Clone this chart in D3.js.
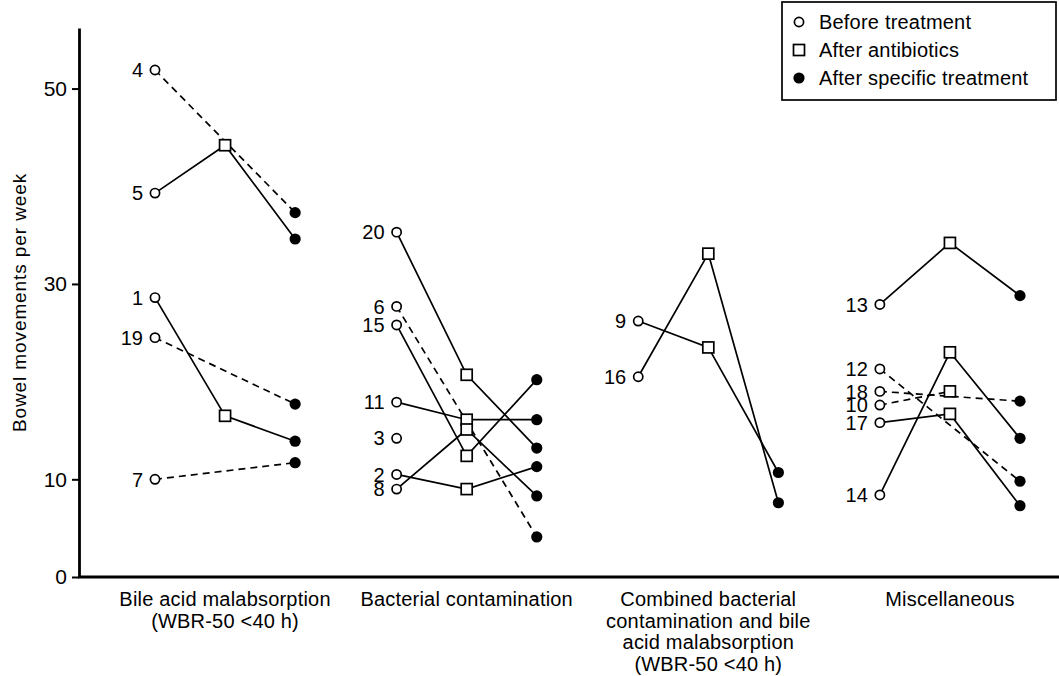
<!DOCTYPE html>
<html>
<head>
<meta charset="utf-8">
<script src="https://cdn.jsdelivr.net/npm/d3@7"></script>
<style>
  body { margin: 0; background: #fff; }
  text { font-family: "Liberation Sans", Arial, sans-serif; fill: #000; }
</style>
</head>
<body>
<div id="chart"></div>
<script>
// Categories (one entry per text line of the x label)
const groupLabels = [
    ["Bile acid malabsorption", "(WBR-50 <40 h)"],
    ["Bacterial contamination"],
    ["Combined bacterial", "contamination and bile", "acid malabsorption", "(WBR-50 <40 h)"],
    ["Miscellaneous"]
];
const phases = ["Before treatment", "After antibiotics", "After specific treatment"];
const yTicks = [0, 10, 30, 50];

const patientIds     = [4, 5, 1, 19, 7,   20, 6, 15, 11, 3, 2, 8,   9, 16,   13, 12, 18, 10, 17, 14];
const patientGroup   = [0, 0, 0, 0, 0,    1, 1, 1, 1, 1, 1, 1,      2, 2,    3, 3, 3, 3, 3, 3];
const beforeVals     = [51.9, 39.3, 28.6, 24.5, 10.0,  35.3, 27.7, 25.8, 17.9, 14.2, 10.5, 9.0,  26.2, 20.5,  27.9, 21.3, 19.0, 17.6, 15.8, 8.4];
const antibioticVals = [null, 44.2, 16.5, null, null,  20.7, null, 12.4, 16.1, null, 9.0, 15.1,  23.5, 33.1,  34.2, null, null, 19.0, 16.7, 23.0];
const specificVals   = [37.3, 34.6, 13.9, 17.7, 11.7,  13.2, 4.1, 20.2, 16.1, null, 11.3, 8.3,  10.7, 7.6,  28.8, 9.8, 18.0, null, 7.3, 14.2];
const dashedLine     = [true, false, false, true, true,  false, true, false, false, false, false, false,  false, false,  false, true, true, true, false, false];

const W = 1059, H = 676;
const svg = d3.select("#chart").append("svg")
    .attr("width", W)
    .attr("height", H);

// Scales
const y = d3.scaleLinear().domain([0, 56.2]).range([577, 28]);
const xGroup = d3.scaleBand()
    .domain(d3.range(groupLabels.length))
    .range([155, 1020])
    .paddingInner(0.42)
    .paddingOuter(0);
const xPhase = d3.scalePoint().domain(phases).range([0, xGroup.bandwidth()]);
const axisX = 79;

// Build patient records
const patients = patientIds.map((id, i) => {
    const vals = [beforeVals[i], antibioticVals[i], specificVals[i]];
    const pts = vals.map((v, j) => ({ phase: phases[j], value: v, x: xGroup(patientGroup[i]) + xPhase(phases[j]) }))
        .filter(p => p.value !== null);
    return { id, dashed: dashedLine[i], pts };
});

// Y axis
const yAxis = d3.axisLeft(y).tickValues(yTicks).tickSize(7).tickSizeOuter(0).tickPadding(5);
const gy = svg.append("g")
    .attr("transform", `translate(${axisX},0)`)
    .call(yAxis);
gy.select(".domain").attr("stroke-width", 2.8);
gy.selectAll(".tick line").attr("stroke-width", 2);
gy.selectAll(".tick text")
    .style("font-size", "21px")
    .attr("fill", "#000");

// X axis baseline
svg.append("line")
    .attr("x1", axisX - 1)
    .attr("x2", W)
    .attr("y1", y(0))
    .attr("y2", y(0))
    .attr("stroke", "#000")
    .attr("stroke-width", 2.8);

// Y axis title
svg.append("text")
    .attr("transform", `translate(26,${(y(0) + y(56.2)) / 2}) rotate(-90)`)
    .attr("text-anchor", "middle")
    .style("font-size", "19px")
    .style("letter-spacing", "0.9px")
    .text("Bowel movements per week");

// Group labels
groupLabels.forEach((lines, g) => {
    const t = svg.append("text")
        .attr("text-anchor", "middle")
        .style("font-size", "20px")
        .style("letter-spacing", "0.2px");
    lines.forEach((ln, k) => {
        t.append("tspan")
            .attr("x", xGroup(g) + xGroup.bandwidth() / 2)
            .attr("y", 606 + k * 21.5)
            .text(ln);
    });
});

// Connecting lines
const line = d3.line().x(d => d.x).y(d => y(d.value));
svg.append("g").selectAll("path")
    .data(patients.filter(p => p.pts.length > 1))
    .join("path")
    .attr("d", d => line(d.pts))
    .attr("fill", "none")
    .attr("stroke", "#000")
    .attr("stroke-width", 1.7)
    .attr("stroke-dasharray", d => d.dashed ? "7,5" : null);

// Markers
function drawMarker(sel, phase) {
    if (phase === phases[0]) {
        sel.append("circle").attr("r", 4.6).attr("fill", "#fff").attr("stroke", "#000").attr("stroke-width", 1.7);
    } else if (phase === phases[1]) {
        sel.append("rect").attr("x", -5.5).attr("y", -5.5).attr("width", 11).attr("height", 11)
            .attr("fill", "#fff").attr("stroke", "#000").attr("stroke-width", 1.7);
    } else {
        sel.append("circle").attr("r", 5.6).attr("fill", "#000");
    }
}

const allPts = patients.flatMap(p => p.pts);
svg.append("g").selectAll("g")
    .data(allPts)
    .join("g")
    .attr("transform", d => `translate(${d.x},${y(d.value)})`)
    .each(function (d) { drawMarker(d3.select(this), d.phase); });

// Patient numbers beside the "before" points
svg.append("g").selectAll("text")
    .data(patients)
    .join("text")
    .attr("x", d => d.pts[0].x - 12)
    .attr("y", d => y(d.pts[0].value))
    .attr("dy", "0.36em")
    .attr("text-anchor", "end")
    .style("font-size", "20px")
    .text(d => d.id);

// Legend
const legend = svg.append("g");
legend.append("rect")
    .attr("x", 782).attr("y", 2)
    .attr("width", 274).attr("height", 98)
    .attr("fill", "#fff")
    .attr("stroke", "#000")
    .attr("stroke-width", 1.7);
phases.forEach((ph, i) => {
    const row = legend.append("g").attr("transform", `translate(799,${22 + i * 28})`);
    drawMarker(row, ph);
    row.append("text")
        .attr("x", 20)
        .attr("dy", "0.36em")
        .style("font-size", "20px")
        .style("letter-spacing", "0.2px")
        .text(ph);
});
</script>
</body>
</html>
